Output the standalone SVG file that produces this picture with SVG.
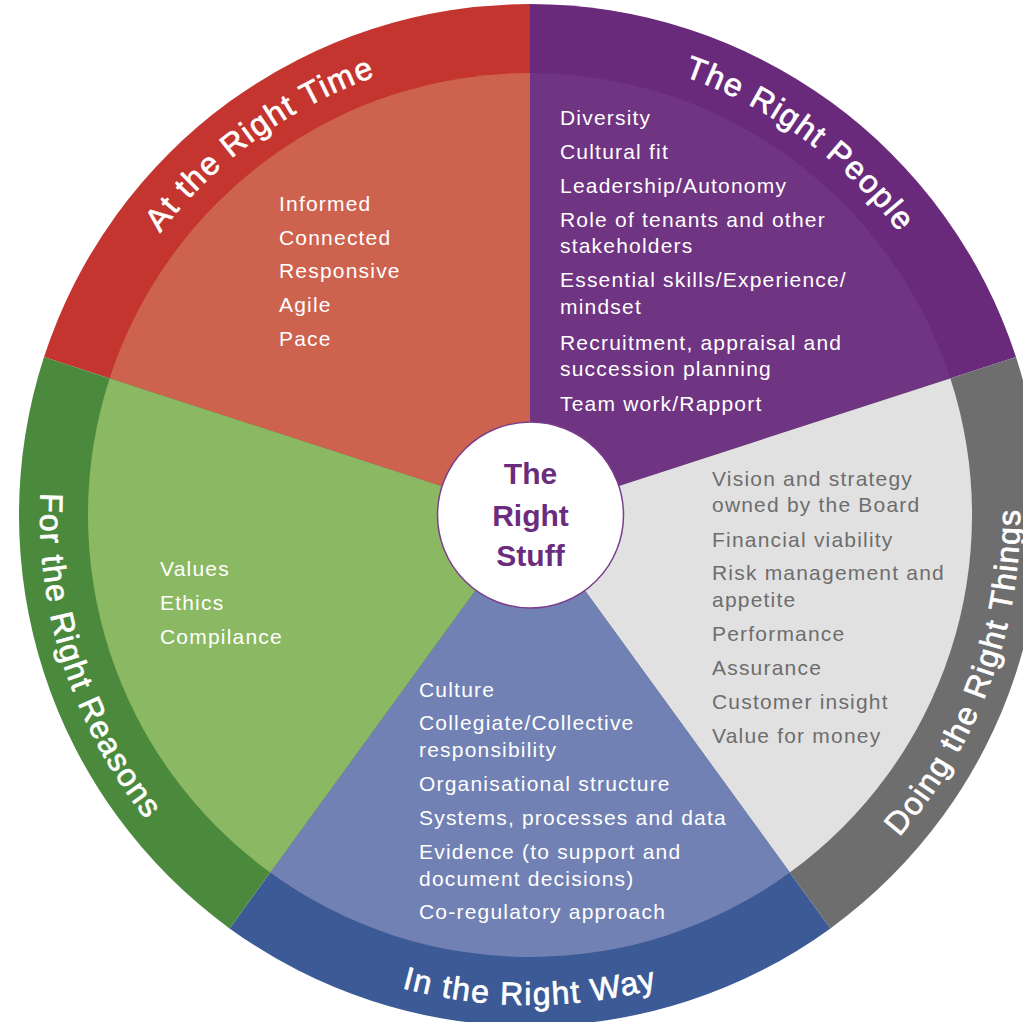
<svg xmlns="http://www.w3.org/2000/svg" width="1023" height="1022" viewBox="0 0 1023 1022">
  <defs>
    <style>
      .body { font-family: "Liberation Sans", Arial, sans-serif; font-size: 21px; letter-spacing: 1.2px; fill: #ffffff; }
      .dark { fill: #6d6d6d; }
      .ring { font-family: "Liberation Sans", Arial, sans-serif; font-size: 32px; letter-spacing: 1.5px; fill: #ffffff; stroke: #ffffff; stroke-width: 0.7px; }
      .hub { font-family: "Liberation Sans", Arial, sans-serif; font-size: 30px; font-weight: bold; fill: #6b2c7e; text-anchor: middle; }
    </style>
    <path id="pRed" d="M87.8,371.3 A465,465 0 0 1 530,50"/>
    <path id="pPurple" d="M530,50 A465,465 0 0 1 972.2,371.3"/>
    <path id="pGray" d="M818.0,911.4 A490,490 0 0 0 996.0,363.6"/>
    <path id="pBlue" d="M242.0,911.4 A490,490 0 0 0 818.0,911.4"/>
    <path id="pGreen" d="M64.0,363.6 A490,490 0 0 0 242.0,911.4"/>
  </defs>
  <rect width="1023" height="1022" fill="#ffffff"/>

  <g id="seg-right-time">
    <path d="M530,515 L44.0,357.1 A511,511 0 0 1 530,4 Z" fill="#c3352e"/>
    <path d="M530,515 L109.6,378.4 A442,442 0 0 1 530,73 Z" fill="#cd634f"/>
    <text class="ring"><textPath href="#pRed" startOffset="50%" text-anchor="middle">At the Right Time</textPath></text>
    <text class="body" x="279" y="211">Informed</text>
    <text class="body" x="279" y="245">Connected</text>
    <text class="body" x="279" y="278">Responsive</text>
    <text class="body" x="279" y="312">Agile</text>
    <text class="body" x="279" y="346">Pace</text>
  </g>

  <g id="seg-right-people">
    <path d="M530,515 L530,4 A511,511 0 0 1 1016.0,357.1 Z" fill="#692a7b"/>
    <path d="M530,515 L530,73 A442,442 0 0 1 950.4,378.4 Z" fill="#6f3482"/>
    <text class="ring"><textPath href="#pPurple" startOffset="50%" text-anchor="middle">The Right People</textPath></text>
    <text class="body" x="560" y="125">Diversity</text>
    <text class="body" x="560" y="159">Cultural fit</text>
    <text class="body" x="560" y="193">Leadership/Autonomy</text>
    <text class="body" x="560" y="227">Role of tenants and other</text>
    <text class="body" x="560" y="253">stakeholders</text>
    <text class="body" x="560" y="287">Essential skills/Experience/</text>
    <text class="body" x="560" y="314">mindset</text>
    <text class="body" x="560" y="350">Recruitment, appraisal and</text>
    <text class="body" x="560" y="376">succession planning</text>
    <text class="body" x="560" y="411">Team work/Rapport</text>
  </g>

  <g id="seg-right-things">
    <path d="M530,515 L1016.0,357.1 A511,511 0 0 1 830.4,928.4 Z" fill="#6e6e6e"/>
    <path d="M530,515 L950.4,378.4 A442,442 0 0 1 789.8,872.6 Z" fill="#e1e1e1"/>
    <text class="ring"><textPath href="#pGray" startOffset="47%" text-anchor="middle">Doing the Right Things</textPath></text>
    <text class="body dark" x="712" y="486">Vision and strategy</text>
    <text class="body dark" x="712" y="512">owned by the Board</text>
    <text class="body dark" x="712" y="547">Financial viability</text>
    <text class="body dark" x="712" y="580">Risk management and</text>
    <text class="body dark" x="712" y="607">appetite</text>
    <text class="body dark" x="712" y="641">Performance</text>
    <text class="body dark" x="712" y="675">Assurance</text>
    <text class="body dark" x="712" y="709">Customer insight</text>
    <text class="body dark" x="712" y="743">Value for money</text>
  </g>

  <g id="seg-right-way">
    <path d="M530,515 L830.4,928.4 A511,511 0 0 1 229.6,928.4 Z" fill="#3c5a96"/>
    <path d="M530,515 L789.8,872.6 A442,442 0 0 1 270.2,872.6 Z" fill="#7281b3"/>
    <text class="ring"><textPath href="#pBlue" startOffset="50%" text-anchor="middle">In the Right Way</textPath></text>
    <text class="body" x="419" y="697">Culture</text>
    <text class="body" x="419" y="730">Collegiate/Collective</text>
    <text class="body" x="419" y="757">responsibility</text>
    <text class="body" x="419" y="791">Organisational structure</text>
    <text class="body" x="419" y="825">Systems, processes and data</text>
    <text class="body" x="419" y="859">Evidence (to support and</text>
    <text class="body" x="419" y="886">document decisions)</text>
    <text class="body" x="419" y="919">Co-regulatory approach</text>
  </g>

  <g id="seg-right-reasons">
    <path d="M530,515 L229.6,928.4 A511,511 0 0 1 44.0,357.1 Z" fill="#4b8a3d"/>
    <path d="M530,515 L270.2,872.6 A442,442 0 0 1 109.6,378.4 Z" fill="#8bb862"/>
    <text class="ring"><textPath href="#pGreen" startOffset="50%" text-anchor="middle">For the Right Reasons</textPath></text>
    <text class="body" x="160" y="576">Values</text>
    <text class="body" x="160" y="610">Ethics</text>
    <text class="body" x="160" y="644">Compilance</text>
  </g>

  <g id="connectors"></g>

  <g id="hub">
    <circle cx="530.5" cy="515" r="93" fill="#ffffff" stroke="#7b3f8c" stroke-width="1.5"/>
    <text class="hub" x="530.5" y="484">The</text>
    <text class="hub" x="530.5" y="526">Right</text>
    <text class="hub" x="530.5" y="566">Stuff</text>
  </g>
</svg>
